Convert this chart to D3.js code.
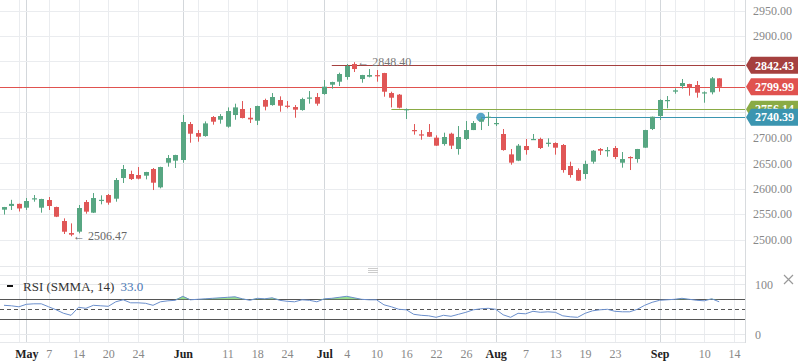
<!DOCTYPE html>
<html>
<head>
<meta charset="utf-8">
<script src="https://cdn.jsdelivr.net/npm/d3@7/dist/d3.min.js"></script>
<style>
body { margin: 0; background: #fff; }
svg { display: block; font-family: "Liberation Serif", "DejaVu Serif", serif; }
</style>
</head>
<body>
<div id="chart"></div>
<script>
// daily candles, one per trading day (index 0..96)
var opens = [2558.6,2566,2570,2562.5,2580,2562.5,2577.6,2563.8,2536.3,2512.7,2515.4,2573.7,2552.7,2577,2587.4,2580.2,2620.8,2628.7,2626.7,2625.4,
  2638.5,2602.5,2650.9,2654.9,2656.2,2726.9,2709.2,2703.3,2740.7,2735.4,2721.7,2744.6,2756.4,2739.3,2733.4,2774.1,2764.2,2774.1,2763,2760.3,
  2754.4,2778,2780,2785.9,2804.2,2810.1,2819.3,2844.8,2815.3,2819.9,2823,2827.1,2787.8,2784.6,2755.1,2715.1,2706.6,2711.2,2700.1,2687.6,
  2707.9,2677.8,2697.5,2715.1,2731.5,2740,2727.6,2707.3,2667.3,2654.9,2683.7,2696.1,2697.5,2689,2689.6,2685.7,2644.4,2636.5,2628.7,2652.9,
  2677.8,2674.5,2679.8,2650.9,2662.1,2658.1,2680.4,2717.1,2742.6,2772.8,2790.5,2801.6,2805.5,2803.6,2787.2,2789.2,2816.7];
var highs = [2564,2578,2570.5,2581.5,2587.4,2580,2583.5,2564.5,2541.6,2531.7,2567.8,2577.6,2591.3,2586.8,2589.4,2620.8,2646.4,2635.2,2642.4,2633,
  2640.5,2643,2666,2666.5,2744.6,2730.9,2715.1,2732.1,2742.6,2746.5,2759.6,2766.9,2772.1,2758.3,2763,2776.7,2787.8,2781.3,2772.1,2764.2,
  2778.6,2791.7,2787.8,2813.4,2810,2827.8,2844.8,2848.4,2823.5,2835,2833,2827.5,2790.4,2785.9,2757.5,2726.9,2715.1,2726.9,2704.7,2709.9,
  2709.9,2723,2732.8,2732.8,2740.39,2750.5,2738.1,2717.1,2677.8,2687.6,2697.5,2707.3,2700.1,2698.8,2690.9,2687.6,2652.9,2639.8,2654.9,2675.8,
  2679.8,2681.7,2683.7,2671.9,2663.4,2678,2715.5,2741.5,2775.4,2781.9,2797,2815.4,2806,2811.4,2791.1,2819.3,2817];
var lows = [2549,2558,2555,2558,2574.3,2552.7,2558,2544,2510.8,2506.47,2512.1,2550.7,2552,2569.1,2568.4,2574.3,2611,2616.9,2618.2,2618.2,
  2597.2,2600.5,2643.1,2640.5,2650.9,2690.2,2692.2,2702,2725.6,2727.6,2719.7,2735.4,2738,2728.9,2724.9,2753.8,2762.9,2751.1,2757.7,2739.3,
  2753.1,2766.9,2762.9,2784.5,2796.3,2801.6,2814,2829.1,2808.1,2818.6,2810.1,2780.6,2759.6,2757.7,2736.8,2706,2696.1,2701.5,2684,2684.4,
  2677.8,2666.7,2695.5,2715,2715.1,2723,2723,2674.5,2647,2654,2666.7,2695.8,2677.8,2682.4,2666.7,2631.3,2621.5,2615,2618.8,2649,
  2666,2662.7,2658.1,2641.1,2636.5,2650.9,2680,2715.1,2734.8,2757.7,2786.5,2796.4,2782.6,2778.7,2768.8,2785.2,2790.5];
var closes = [2563.8,2570,2561,2575.6,2581,2579.6,2565.8,2544.8,2515.3,2509.5,2561.9,2554.7,2581.5,2578,2572.4,2616.9,2638.5,2618.8,2619.5,2632.6,
  2611.6,2642.4,2660.1,2666,2730.9,2707.9,2702,2728.2,2731.5,2742.6,2752.4,2759.6,2738.7,2736.1,2762.3,2761,2780,2762.9,2762,2755.1,
  2776,2779,2766.9,2800.3,2809.4,2825.2,2840.9,2835,2823.2,2823.2,2822,2790.4,2778.6,2759,2756.14,2713.8,2705.3,2702,2684.4,2701.4,
  2684.4,2701.4,2715.1,2728.9,2736.1,2741.3,2728.9,2675.8,2651,2684.4,2675.8,2697.5,2679.8,2690.2,2680.4,2636.5,2626.7,2615.6,2648.3,2674.5,
  2674.5,2675.8,2662.1,2658.1,2660.8,2677.8,2715.1,2741.3,2774.1,2774.1,2793.1,2807.5,2798.3,2788.5,2789.2,2816.7,2799.99];
var rsiValues = [58,57,55,60,61,61,55,49,42,38,54,52,58,57,56,65,69,63,63,62,
  58,65,67,68,76,69,70,71,72,73,74,75,71,68,72,71,73,68,66,65,
  69,68,65,71,72,74,76,73,70,69,69,59,55,50,49,40,38,37,34,38,
  36,40,44,49,51,52,50,39,34,42,41,46,44,45,44,37,35,34,42,47,
  49,50,46,45,45,50,58,64,68,69,70,72,70,68,67,71,65];

// date axis: candle index of each gridline and its label
var tickIndex = [2,3,6,10,14,18,24,26,30,34,38,43,46,50,54,58,62,66,70,74,78,82,86,88,90,94,98];
var tickLabels = ['','May','7','14','20','24','Jun','','11','18','24','Jul','4','10','16','22','26','Aug','7','13','19','23','','Sep','','10','14'];
var monthLabels = ['May','Jun','Jul','Aug','Sep'];
var priceTicks = [2500,2550,2600,2650,2700,2750,2800,2850,2900,2950];

// horizontal levels drawn on the chart: value, first candle, colour
var levelValues = [2842.43, 2799.99, 2756.14, 2740.39];
var levelStart = [44, -1, 52, 64];
var levelColors = ['#a5403f', '#e0524f', '#8aab45', '#3b95b0'];

var width = 798, height = 363;
var plotRight = 745;
var svg = d3.select('#chart').append('svg').attr('width', width).attr('height', height);

var x = d3.scaleLinear().domain([0, 96]).range([4, 719.2]);
var y = d3.scaleLinear().domain([2500, 2950]).range([239.5, 10.5]);
var yr = d3.scaleLinear().domain([0, 100]).range([334.3, 284.3]);

var green = '#57a682', red = '#e05656';

// grid
svg.selectAll('.vgrid').data(tickIndex).enter().append('line')
  .attr('x1', function(d) { return Math.round(x(d)) + 0.5; })
  .attr('x2', function(d) { return Math.round(x(d)) + 0.5; })
  .attr('y1', 0).attr('y2', 342)
  .attr('stroke', function(d, i) { return monthLabels.indexOf(tickLabels[i]) >= 0 ? '#d3d7db' : '#eaecef'; });

svg.selectAll('.hgrid').data(priceTicks).enter().append('line')
  .attr('x1', 0).attr('x2', plotRight)
  .attr('y1', function(d) { return Math.round(y(d)) + 0.5; })
  .attr('y2', function(d) { return Math.round(y(d)) + 0.5; })
  .attr('stroke', '#eaecef');

[266.5, 275.5, Math.round(yr(100)) + 0.5, Math.round(yr(0)) + 0.5, 342.5].forEach(function(v) {
  svg.append('line').attr('x1', 0).attr('x2', plotRight).attr('y1', v).attr('y2', v).attr('stroke', '#e6e8eb');
});
svg.append('line').attr('x1', plotRight + 0.5).attr('x2', plotRight + 0.5).attr('y1', 0).attr('y2', 343).attr('stroke', '#d8dbde');

// level lines
levelValues.forEach(function(v, i) {
  var yy = Math.round(y(v)) + 0.5;
  svg.append('line')
    .attr('x1', levelStart[i] < 0 ? 0 : x(levelStart[i])).attr('x2', plotRight)
    .attr('y1', yy).attr('y2', yy)
    .attr('stroke', levelColors[i]).attr('stroke-width', 1.2);
});
svg.append('circle').attr('cx', x(64)).attr('cy', y(2740.39)).attr('r', 4.5)
  .attr('fill', '#3b95c0').attr('opacity', 0.85);

// candles
var idx = d3.range(opens.length);
var candles = svg.append('g');
candles.selectAll('.wick').data(idx).enter().append('line')
  .attr('x1', function(i) { return Math.round(x(i)) + 0.5; })
  .attr('x2', function(i) { return Math.round(x(i)) + 0.5; })
  .attr('y1', function(i) { return y(highs[i]); })
  .attr('y2', function(i) { return y(lows[i]); })
  .attr('stroke', function(i) { return closes[i] >= opens[i] ? green : red; });
candles.selectAll('.body').data(idx).enter().append('rect')
  .attr('x', function(i) { return Math.round(x(i)) - 2; })
  .attr('width', 5)
  .attr('y', function(i) { return y(Math.max(opens[i], closes[i])); })
  .attr('height', function(i) { return Math.max(1.2, Math.abs(y(opens[i]) - y(closes[i]))); })
  .attr('fill', function(i) { return closes[i] >= opens[i] ? green : red; });

// high / low notes
svg.append('text').attr('x', x(47) + 3).attr('y', y(2848.4) + 4)
  .attr('font-size', 12).attr('fill', '#777').text('\u2190 2848.40');
svg.append('text').attr('x', x(9) + 2).attr('y', y(2506.47) + 4)
  .attr('font-size', 12).attr('fill', '#666').text('\u2190 2506.47');

// price axis; labels that sit under a price tag are hidden, as in the original
var yAxis = svg.append('g').attr('transform', 'translate(750,0)')
  .call(d3.axisRight(y).tickValues(priceTicks.filter(function(p) {
      return levelValues.every(function(v) { return Math.abs(y(v) - y(p)) > 12; });
    })).tickFormat(d3.format('.2f')).tickSize(0));
yAxis.select('.domain').remove();
yAxis.selectAll('text').attr('fill', '#888').attr('font-size', 12).attr('font-family', '"Liberation Serif", serif');

// price tags
levelValues.forEach(function(v, i) {
  var cy = y(v), h = 8.5, l = 746;
  svg.append('path')
    .attr('d', 'M' + l + ',' + cy + 'L' + (l + 5) + ',' + (cy - h) + 'L798,' + (cy - h) + 'L798,' + (cy + h) + 'L' + (l + 5) + ',' + (cy + h) + 'Z')
    .attr('fill', levelColors[i]);
  svg.append('text').attr('x', 755).attr('y', cy + 4.3)
    .attr('font-size', 12).attr('font-weight', 'bold').attr('fill', '#fff')
    .text(d3.format('.2f')(v));
});

// RSI pane
[70, 30].forEach(function(v) {
  svg.append('line').attr('x1', 0).attr('x2', plotRight)
    .attr('y1', Math.round(yr(v)) + 0.5).attr('y2', Math.round(yr(v)) + 0.5).attr('stroke', '#555');
});
svg.append('line').attr('x1', 0).attr('x2', plotRight)
  .attr('y1', Math.round(yr(50)) + 0.5).attr('y2', Math.round(yr(50)) + 0.5)
  .attr('stroke', '#555').attr('stroke-dasharray', '4,3');

var over = d3.area()
  .x(function(d, i) { return x(i); })
  .y0(yr(70))
  .y1(function(d) { return yr(Math.max(d, 70)); });
svg.append('path').datum(rsiValues).attr('d', over).attr('fill', '#8fdc85').attr('opacity', 0.9);

var rsiLine = d3.line().x(function(d, i) { return x(i); }).y(function(d) { return yr(d); });
svg.append('path').datum(rsiValues).attr('d', rsiLine)
  .attr('fill', 'none').attr('stroke', '#6b8fcc').attr('stroke-width', 1);

var rAxis = svg.append('g').attr('transform', 'translate(752,0)')
  .call(d3.axisRight(yr).tickValues([0, 100]).tickSize(0));
rAxis.select('.domain').remove();
rAxis.selectAll('text').attr('fill', '#888').attr('font-size', 12).attr('font-family', '"Liberation Serif", serif');

// legend
svg.append('line').attr('x1', 7).attr('x2', 13).attr('y1', 286).attr('y2', 286).attr('stroke', '#111').attr('stroke-width', 2);
var legendName = svg.append('text').attr('x', 23).attr('y', 291).attr('font-size', 13).attr('fill', '#333').text('RSI (SMMA, 14)');
var nameWidth = legendName.node().getComputedTextLength();
svg.append('text').attr('x', 23 + nameWidth + 6).attr('y', 291).attr('font-size', 13).attr('fill', '#4a78b5').text('33.0');

// pane handle and close mark
[268.5, 270.5, 272.5].forEach(function(v) {
  svg.append('line').attr('x1', 368).attr('x2', 378).attr('y1', v).attr('y2', v).attr('stroke', '#ccc');
});
svg.append('path').attr('d', 'M784,275L793,284M793,275L784,284').attr('stroke', '#999').attr('stroke-width', 1.2);

// date axis
var xAxis = svg.append('g').attr('transform', 'translate(0,346)')
  .call(d3.axisBottom(x).tickValues(tickIndex).tickFormat(function(d, i) { return tickLabels[i]; }).tickSize(0));
xAxis.select('.domain').remove();
xAxis.selectAll('text')
  .attr('font-size', 12).attr('font-family', '"Liberation Serif", serif')
  .attr('fill', function(d, i) { return monthLabels.indexOf(tickLabels[i]) >= 0 ? '#222' : '#888'; })
  .attr('font-weight', function(d, i) { return monthLabels.indexOf(tickLabels[i]) >= 0 ? 'bold' : 'normal'; });
</script>
</body>
</html>
